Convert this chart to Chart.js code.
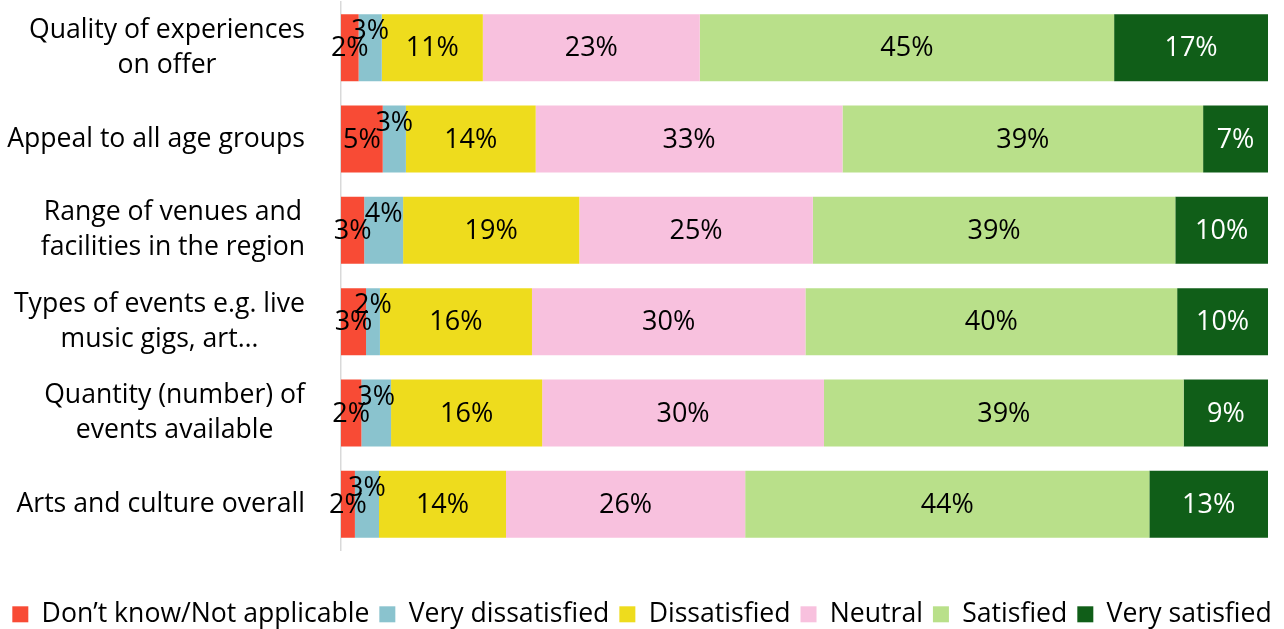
<!DOCTYPE html>
<html>
<head>
<meta charset="utf-8">
<script src="https://cdn.jsdelivr.net/npm/chart.js@4.4.1/dist/chart.umd.min.js"></script>
<style>
  html, body { margin: 0; padding: 0; background: #ffffff; }
  #wrap { width: 1284px; height: 629px; position: relative; }
</style>
</head>
<body>
<div id="wrap"><canvas id="c" width="1284" height="629"></canvas></div>
<script>
// ---- Data ----
const categories = [
  ["Quality of experiences", "on offer"],
  "Appeal to all age groups",
  ["Range of venues and", "facilities in the region"],
  ["Types of events e.g. live", "music gigs, art…"],
  ["Quantity (number) of", "events available"],
  "Arts and culture overall"
];
const seriesNames = ["Don’t know/Not applicable", "Very dissatisfied", "Dissatisfied", "Neutral", "Satisfied", "Very satisfied"];
const dontKnow         = [1.9, 4.5, 2.5, 2.7, 2.2, 1.5];
const veryDissatisfied = [2.5, 2.5, 4.2, 1.5, 3.2, 2.6];
const dissatisfied     = [10.9, 14.0, 19.0, 16.4, 16.3, 13.7];
const neutral          = [23.4, 33.1, 25.2, 29.5, 30.4, 25.8];
const satisfied        = [44.7, 38.9, 39.1, 40.1, 38.8, 43.6];
const verySatisfied    = [16.6, 7.0, 10.0, 9.8, 9.1, 12.8];

// ---- Styles ----
const colors = ["#F84B35", "#8AC3CE", "#EEDC1D", "#F8C1DE", "#B9E08A", "#105E18"];
const labelColors = ["#000", "#000", "#000", "#000", "#000", "#fff"];
const labelDy = [1, -16, 1, 1, 1, 1];
const FONT = "'Open Sans', 'Noto Sans', sans-serif";

const seriesData = [dontKnow, veryDissatisfied, dissatisfied, neutral, satisfied, verySatisfied];

const datasets = seriesData.map((d, i) => ({
  label: seriesNames[i],
  data: d,
  backgroundColor: colors[i],
  borderWidth: 0,
  barPercentage: 0.734,
  categoryPercentage: 1.0
}));

// Category labels: block right-aligned, lines centered inside block
const catLabelPlugin = {
  id: 'catLabels',
  afterDraw(chart) {
    const ctx = chart.ctx;
    const y = chart.scales.y;
    const rightEdge = 305;
    const lineH = 35;
    ctx.save();
    ctx.font = "26.6px " + FONT;
    ctx.fillStyle = "#000";
    ctx.textAlign = "center";
    ctx.textBaseline = "middle";
    categories.forEach((lab, i) => {
      const lines = Array.isArray(lab) ? lab : [lab];
      const w = Math.max(...lines.map(l => ctx.measureText(l).width));
      const cx = rightEdge - w / 2;
      const cy = y.getPixelForValue(i);
      const startY = cy - (lines.length - 1) * lineH / 2;
      lines.forEach((l, k) => ctx.fillText(l, cx, startY + k * lineH));
    });
    ctx.restore();
  }
};

// Data labels
const dataLabelPlugin = {
  id: 'dataLabels',
  afterDatasetsDraw(chart) {
    const ctx = chart.ctx;
    ctx.save();
    ctx.font = "27px " + FONT;
    ctx.textAlign = "center";
    ctx.textBaseline = "middle";
    chart.data.datasets.forEach((ds, di) => {
      const meta = chart.getDatasetMeta(di);
      meta.data.forEach((bar, j) => {
        const v = ds.data[j];
        const x = (bar.x + bar.base) / 2;
        ctx.fillStyle = labelColors[di];
        ctx.fillText(Math.round(v) + "%", x, bar.y + labelDy[di]);
      });
    });
    ctx.restore();
  }
};

// Legend: fixed height
const legendFitPlugin = {
  id: 'legendFit',
  beforeInit(chart) {
    const orig = chart.legend.fit;
    chart.legend.fit = function () {
      orig.bind(chart.legend)();
      this.height = 38;
    };
  }
};

new Chart(document.getElementById('c'), {
  type: 'bar',
  data: { labels: categories, datasets },
  options: {
    indexAxis: 'y',
    responsive: false,
    animation: false,
    layout: { padding: { top: 2, right: 0, bottom: 0, left: 0 } },
    scales: {
      x: {
        stacked: true,
        min: 0, max: 100,
        display: true,
        ticks: { display: false },
        grid: { display: false },
        border: { display: false },
        afterFit(s) { s.height = 41; }
      },
      y: {
        stacked: true,
        ticks: { display: false },
        grid: { display: false, drawTicks: false },
        border: { display: true, color: "#D9D9D9", width: 1.5 },
        afterFit(s) { s.width = 341; }
      },
      ySpacer: {
        type: 'category',
        position: 'right',
        display: true,
        ticks: { display: false },
        grid: { display: false, drawTicks: false },
        border: { display: false },
        afterFit(s) { s.width = 16; }
      }
    },
    plugins: {
      tooltip: { enabled: false },
      legend: {
        position: 'bottom',
        labels: {
          boxWidth: 16,
          boxHeight: 16,
          padding: 10,
          color: "#000",
          font: { family: FONT, size: 26.6 }
        }
      }
    }
  },
  plugins: [legendFitPlugin, catLabelPlugin, dataLabelPlugin]
});
</script>
</body>
</html>
